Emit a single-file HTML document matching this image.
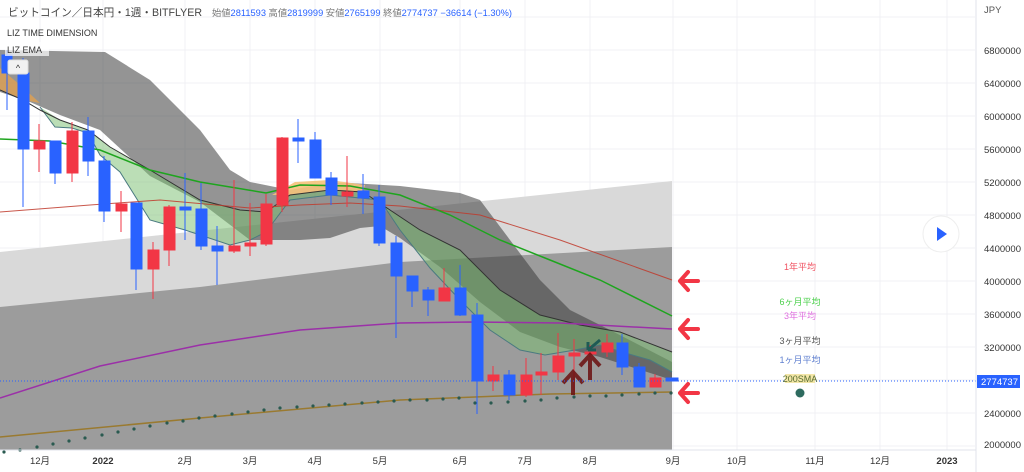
<!DOCTYPE html>
<html><head><meta charset="utf-8"><style>
body{margin:0;background:#fff;width:1024px;height:472px;overflow:hidden;font-family:"Liberation Sans","Noto Sans CJK JP",sans-serif}
svg{position:absolute;left:0;top:0}
</style></head><body>
<svg width="1024" height="472" viewBox="0 0 1024 472" xmlns="http://www.w3.org/2000/svg" font-family="Liberation Sans, Noto Sans CJK JP, sans-serif">
<rect width="1024" height="472" fill="#fff"/>
<g stroke="#f0f1f4" stroke-width="1">
<line x1="0" y1="17" x2="975" y2="17"/><line x1="0" y1="50" x2="975" y2="50"/><line x1="0" y1="83" x2="975" y2="83"/><line x1="0" y1="116" x2="975" y2="116"/><line x1="0" y1="149" x2="975" y2="149"/><line x1="0" y1="182" x2="975" y2="182"/><line x1="0" y1="215" x2="975" y2="215"/><line x1="0" y1="248" x2="975" y2="248"/><line x1="0" y1="281" x2="975" y2="281"/><line x1="0" y1="314" x2="975" y2="314"/><line x1="0" y1="347" x2="975" y2="347"/><line x1="0" y1="380" x2="975" y2="380"/><line x1="0" y1="413" x2="975" y2="413"/><line x1="0" y1="446" x2="975" y2="446"/>
<line x1="40" y1="0" x2="40" y2="450"/><line x1="103" y1="0" x2="103" y2="450"/><line x1="185" y1="0" x2="185" y2="450"/><line x1="250" y1="0" x2="250" y2="450"/><line x1="315" y1="0" x2="315" y2="450"/><line x1="380" y1="0" x2="380" y2="450"/><line x1="460" y1="0" x2="460" y2="450"/><line x1="525" y1="0" x2="525" y2="450"/><line x1="590" y1="0" x2="590" y2="450"/><line x1="673" y1="0" x2="673" y2="450"/><line x1="737" y1="0" x2="737" y2="450"/><line x1="815" y1="0" x2="815" y2="450"/><line x1="880" y1="0" x2="880" y2="450"/><line x1="947" y1="0" x2="947" y2="450"/>
</g>
<polygon points="0,252 672,181 672,450 0,450" fill="#d9d9d9"/>
<polygon points="0,307 200,287 400,262 672,247 672,450 0,450" fill="#9c9c9c"/>
<polygon points="0,50 105,52 150,80 200,130 230,170 250,182 290,190 330,183 350,183 400,186 460,193 480,200 510,240 540,280 570,310 610,330 672,362 672,380 600,357 560,347 520,332 480,302 440,267 400,238 380,226 360,228 330,238 300,240 250,240 200,202 150,176 100,130 60,115 30,102 0,92" fill="rgba(60,60,60,0.55)"/>
<polygon points="0,68 20,85 40,103 23,100 0,90" fill="#e0a050" opacity="0.8"/>
<polygon points="272,195 295,182 330,180 365,185 363,192 330,190 290,195" fill="#f5c27a" opacity="0.9"/>
<polygon points="40,107 60,120 88,130 110,147 150,170 200,200 240,210 266,212 290,195 330,190 363,192 390,210 420,230 460,250 500,290 540,315 580,325 620,332 672,352 672,372 650,360 622,352 600,345 575,350 545,355 520,350 490,330 460,300 430,268 400,230 380,200 330,195 290,200 266,232 250,240 230,245 185,230 150,220 120,172 100,155 88,133 72,128 55,127" fill="rgba(120,190,110,0.5)"/>
<polyline points="40,107 55,127 72,128 88,133 100,155 120,172 150,220 185,230 230,245 250,240 266,232 290,200 330,195 380,200 400,230 430,268 460,300 490,330 520,350 545,355 575,350 600,345 622,352 650,360 672,372" fill="none" stroke="#4a7a80" stroke-width="1"/>
<polyline points="0,90 23,100 40,110 60,120 88,130 110,147 150,170 200,200 240,210 266,212 290,195 330,190 363,192 390,210 420,230 460,250 500,290 540,315 580,325 620,332 672,352" fill="none" stroke="#333" stroke-width="1"/>
<polyline points="0,212 90,205 160,200 250,208 300,205 350,203 400,206 480,215 560,240 672,280" fill="none" stroke="#c0392b" stroke-width="1" opacity="0.85"/>
<polyline points="0,139 50,141 100,150 150,170 200,182 266,193 300,185 350,186 400,195 450,215 500,240 550,260 600,280 672,316" fill="none" stroke="#1ea51e" stroke-width="1.5"/>
<polyline points="0,398 100,366 200,345 300,330 400,323 470,322 560,323 672,329" fill="none" stroke="#9b30a8" stroke-width="1.5"/>
<polyline points="0,437 200,418 400,400 550,394 672,392" fill="none" stroke="#9a7a30" stroke-width="1.5"/>
<g fill="#2a5a50">
<circle cx="4" cy="452" r="1.6"/><circle cx="20" cy="450" r="1.6"/><circle cx="37" cy="447" r="1.6"/><circle cx="53" cy="444" r="1.6"/><circle cx="69" cy="441" r="1.6"/><circle cx="85" cy="438" r="1.6"/><circle cx="102" cy="435" r="1.6"/><circle cx="118" cy="432" r="1.6"/><circle cx="134" cy="429" r="1.6"/><circle cx="150" cy="426" r="1.6"/><circle cx="167" cy="423" r="1.6"/><circle cx="183" cy="421" r="1.6"/><circle cx="199" cy="418" r="1.6"/><circle cx="215" cy="416" r="1.6"/><circle cx="232" cy="414" r="1.6"/><circle cx="248" cy="412" r="1.6"/><circle cx="264" cy="410" r="1.6"/><circle cx="280" cy="408" r="1.6"/><circle cx="297" cy="407" r="1.6"/><circle cx="313" cy="406" r="1.6"/><circle cx="329" cy="405" r="1.6"/><circle cx="345" cy="404" r="1.6"/><circle cx="362" cy="403" r="1.6"/><circle cx="378" cy="402" r="1.6"/><circle cx="394" cy="401" r="1.6"/><circle cx="410" cy="400" r="1.6"/><circle cx="427" cy="400" r="1.6"/><circle cx="443" cy="399" r="1.6"/><circle cx="459" cy="398" r="1.6"/><circle cx="475" cy="403" r="1.6"/><circle cx="491" cy="403" r="1.6"/><circle cx="508" cy="402" r="1.6"/><circle cx="525" cy="401" r="1.6"/><circle cx="541" cy="400" r="1.6"/><circle cx="557" cy="398" r="1.6"/><circle cx="574" cy="397" r="1.6"/><circle cx="590" cy="396" r="1.6"/><circle cx="606" cy="396" r="1.6"/><circle cx="622" cy="395" r="1.6"/><circle cx="639" cy="394" r="1.6"/><circle cx="655" cy="393" r="1.6"/><circle cx="671" cy="393" r="1.6"/>
</g>
<g stroke-width="1">
<g stroke="#2962ff" fill="#2962ff">
<line x1="7" y1="50" x2="7" y2="110"/><rect x="2" y="55" width="10" height="18"/>
<line x1="23" y1="58" x2="23" y2="207"/><rect x="18" y="73" width="11" height="76"/>
<line x1="55" y1="141" x2="55" y2="184"/><rect x="50" y="141" width="11" height="32"/>
<line x1="88" y1="117" x2="88" y2="176"/><rect x="83" y="131" width="11" height="30"/>
<line x1="104" y1="156" x2="104" y2="222"/><rect x="99" y="161" width="11" height="50"/>
<line x1="136" y1="203" x2="136" y2="290"/><rect x="131" y="203" width="11" height="66"/>
<line x1="185" y1="173" x2="185" y2="240"/><rect x="180" y="207" width="11" height="3"/>
<line x1="201" y1="183" x2="201" y2="250"/><rect x="196" y="209" width="11" height="37"/>
<line x1="217" y1="226" x2="217" y2="285"/><rect x="212" y="246" width="11" height="5"/>
<line x1="298" y1="119" x2="298" y2="163"/><rect x="293" y="138" width="11" height="3"/>
<line x1="315" y1="132" x2="315" y2="178"/><rect x="310" y="140" width="11" height="38"/>
<line x1="331" y1="172" x2="331" y2="205"/><rect x="326" y="178" width="11" height="17"/>
<line x1="363" y1="174" x2="363" y2="214"/><rect x="358" y="191" width="11" height="7"/>
<line x1="379" y1="185" x2="379" y2="246"/><rect x="374" y="197" width="11" height="46"/>
<line x1="396" y1="236" x2="396" y2="338"/><rect x="391" y="243" width="11" height="33"/>
<line x1="412" y1="276" x2="412" y2="307"/><rect x="407" y="276" width="11" height="15"/>
<line x1="428" y1="287" x2="428" y2="316"/><rect x="423" y="290" width="11" height="10"/>
<line x1="460" y1="265" x2="460" y2="316"/><rect x="455" y="288" width="11" height="27"/>
<line x1="477" y1="303" x2="477" y2="414"/><rect x="472" y="315" width="11" height="66"/>
<line x1="509" y1="370" x2="509" y2="400"/><rect x="504" y="375" width="11" height="20"/>
<line x1="622" y1="334" x2="622" y2="375"/><rect x="617" y="343" width="11" height="24"/>
<line x1="639" y1="363" x2="639" y2="387"/><rect x="634" y="367" width="11" height="20"/>
<rect x="666" y="378" width="12" height="3"/>
</g>
<g stroke="#f23645" fill="#f23645">
<line x1="39" y1="124" x2="39" y2="172"/><rect x="34" y="141" width="11" height="8"/>
<line x1="72" y1="122" x2="72" y2="182"/><rect x="67" y="131" width="11" height="42"/>
<line x1="121" y1="191" x2="121" y2="232"/><rect x="116" y="204" width="11" height="7"/>
<line x1="153" y1="242" x2="153" y2="299"/><rect x="148" y="250" width="11" height="19"/>
<line x1="169" y1="205" x2="169" y2="266"/><rect x="164" y="207" width="11" height="43"/>
<line x1="234" y1="180" x2="234" y2="253"/><rect x="229" y="246" width="11" height="5"/>
<line x1="250" y1="203" x2="250" y2="256"/><rect x="245" y="243" width="11" height="3"/>
<line x1="266" y1="194" x2="266" y2="246"/><rect x="261" y="204" width="11" height="40"/>
<line x1="282" y1="137" x2="282" y2="212"/><rect x="277" y="138" width="11" height="67"/>
<line x1="347" y1="156" x2="347" y2="207"/><rect x="342" y="192" width="11" height="4"/>
<line x1="444" y1="268" x2="444" y2="301"/><rect x="439" y="288" width="11" height="13"/>
<line x1="493" y1="366" x2="493" y2="391"/><rect x="488" y="375" width="11" height="6"/>
<line x1="526" y1="358" x2="526" y2="397"/><rect x="521" y="375" width="11" height="20"/>
<line x1="541" y1="353" x2="541" y2="395"/><rect x="536" y="372" width="11" height="3"/>
<line x1="558" y1="333" x2="558" y2="380"/><rect x="553" y="356" width="11" height="16"/>
<line x1="574" y1="339" x2="574" y2="392"/><rect x="569" y="353" width="11" height="3"/>
<line x1="590" y1="345" x2="590" y2="357"/><rect x="585" y="352" width="11" height="2"/>
<line x1="607" y1="334" x2="607" y2="357"/><rect x="602" y="343" width="11" height="9"/>
<line x1="655" y1="374" x2="655" y2="387"/><rect x="650" y="378" width="11" height="9"/>
</g>
</g>
<g stroke="#6b1010" stroke-width="4" fill="none" opacity="0.85">
<path d="M573,395 V372 M563,383 L573,372 L583,383"/>
<path d="M590,380 V355 M580,366 L590,355 L600,366"/>
</g>
<path d="M600,340 L588,350 M588,350 L588,342 M588,350 L596,350" stroke="#1f5a55" stroke-width="3" fill="none"/>
<g stroke="#f23645" stroke-width="4" fill="none" stroke-linecap="round" stroke-linejoin="round">
<path d="M680,281 H698 M688,272 L680,281 L688,290"/>
<path d="M680,329 H698 M688,320 L680,329 L688,338"/>
<path d="M680,393 H698 M688,384 L680,393 L688,402"/>
</g>
<line x1="0" y1="381" x2="976" y2="381" stroke="#2962ff" stroke-width="1" stroke-dasharray="1,2"/>
<g font-size="9" text-anchor="middle">
<text x="800" y="270" fill="#f05060">1年平均</text>
<text x="800" y="305" fill="#4cd04c">6ヶ月平均</text>
<text x="800" y="319" fill="#e070e0">3年平均</text>
<text x="800" y="344" fill="#555">3ヶ月平均</text>
<text x="800" y="363" fill="#6080d0">1ヶ月平均</text>
<rect x="785" y="374" width="30" height="9" fill="#f3e6a8"/>
<text x="800" y="382" fill="#556b2f">200SMA</text>
</g>
<circle cx="800" cy="393" r="4.5" fill="#2e6b5f"/>
<line x1="0" y1="450" x2="1024" y2="450" stroke="#e0e3eb"/>
<rect x="976" y="0" width="48" height="472" fill="#fff"/>
<line x1="976" y1="0" x2="976" y2="472" stroke="#e0e3eb"/>
<g font-size="9.5" fill="#333">
<text x="984" y="13" fill="#555">JPY</text>
<text x="984" y="54">6800000</text><text x="984" y="87">6400000</text><text x="984" y="120">6000000</text><text x="984" y="153">5600000</text><text x="984" y="186">5200000</text><text x="984" y="219">4800000</text><text x="984" y="252">4400000</text><text x="984" y="285">4000000</text><text x="984" y="318">3600000</text><text x="984" y="351">3200000</text><text x="984" y="417">2400000</text><text x="984" y="448">2000000</text>
</g>
<rect x="977" y="375" width="43" height="13" fill="#2962ff"/>
<text x="981" y="385" font-size="9.5" fill="#fff">2774737</text>
<g font-size="9.5" fill="#333" text-anchor="middle">
<text x="40" y="464">12月</text><text x="103" y="464" font-weight="bold">2022</text><text x="185" y="464">2月</text><text x="250" y="464">3月</text><text x="315" y="464">4月</text><text x="380" y="464">5月</text><text x="460" y="464">6月</text><text x="525" y="464">7月</text><text x="590" y="464">8月</text><text x="673" y="464">9月</text><text x="737" y="464">10月</text><text x="815" y="464">11月</text><text x="880" y="464">12月</text><text x="947" y="464" font-weight="bold">2023</text>
</g>
<circle cx="941" cy="234" r="18" fill="#fff" stroke="#eee"/>
<polygon points="937,227 937,241 947,234" fill="#2962ff"/>
<text x="8" y="16" font-size="11" fill="#444" textLength="194" lengthAdjust="spacingAndGlyphs">ビットコイン／日本円・1週・BITFLYER</text>
<text x="212" y="16" font-size="9" textLength="300" lengthAdjust="spacingAndGlyphs"><tspan fill="#777">始値</tspan><tspan fill="#2962ff">2811593</tspan><tspan fill="#777"> 高値</tspan><tspan fill="#2962ff">2819999</tspan><tspan fill="#777"> 安値</tspan><tspan fill="#2962ff">2765199</tspan><tspan fill="#777"> 終値</tspan><tspan fill="#2962ff">2774737 −36614 (−1.30%)</tspan></text>
<text x="7" y="36" font-size="9" fill="#333">LIZ TIME DIMENSION</text>
<rect x="5" y="42" width="44" height="14" fill="rgba(255,255,255,0.7)"/>
<text x="7" y="53" font-size="9" fill="#333">LIZ EMA</text>
<rect x="8" y="60" width="20" height="14" rx="2" fill="#f2f2f2" stroke="#ddd"/>
<text x="18" y="71" font-size="9" fill="#333" text-anchor="middle">^</text>
</svg>
</body></html>
